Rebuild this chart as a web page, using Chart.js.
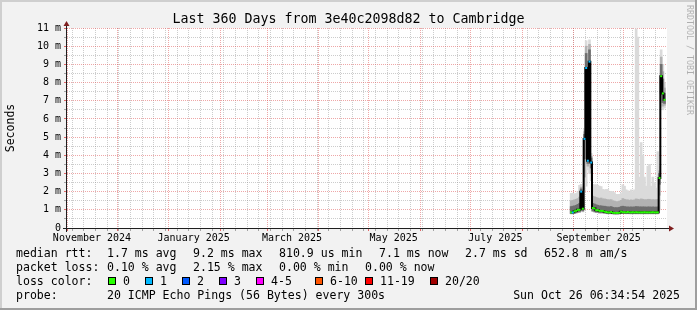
<!DOCTYPE html>
<html><head><meta charset="utf-8">
<script src="https://cdn.jsdelivr.net/npm/chart.js@4"></script>
<style>html,body{margin:0;padding:0;background:#f2f2f2;}canvas{display:block}</style>
</head><body>
<canvas id="c" width="697" height="310"></canvas>
<script>
// ---------------- data ----------------
const titleText = 'Last 360 Days from 3e40c2098d82 to Cambridge';
const axisStart = '2024-11-01';            // left edge of the time axis
const axisDays = 360;
const firstSampleDate = '2025-08-30';      // one sample per day from here
const monthStarts = ['2024-11-01','2024-12-01','2025-01-01','2025-02-01','2025-03-01','2025-04-01',
  '2025-05-01','2025-06-01','2025-07-01','2025-08-01','2025-09-01','2025-10-01'];
const labelMonths = ['2024-11-01','2025-01-01','2025-03-01','2025-05-01','2025-07-01','2025-09-01'];
const tickLabels = ['November 2024','January 2025','March 2025','May 2025','July 2025','September 2025'];
const firstWeekLine = '2024-11-04';
const yMaxMs = 11;

// median rtt (ms), one per day
const medianRtt = [
  0.86,0.86,0.92,0.95,1.00,1.00,2.00,1.06,4.90,8.80,
  3.70,9.15,3.60,1.10,1.08,0.98,0.98,0.94,0.94,0.94,
  0.90,0.88,0.86,0.86,0.88,0.84,0.83,0.83,0.83,0.84,
  0.90,0.87,0.87,0.86,0.88,0.86,0.86,0.87,0.86,0.87,
  0.86,0.86,0.86,0.86,0.87,0.86,0.86,0.86,0.86,0.87,
  0.86,0.86,0.86,2.75,8.35,7.40,7.05];
// lost pings (of 20)
const lostPings = [
  0,1,0,0,0,0,1,0,1,1,
  1,1,1,0,0,0,0,0,0,0,
  0,0,0,0,0,0,0,0,0,0,
  0,0,0,0,0,0,0,0,0,0,
  0,0,0,0,0,0,0,0,0,0,
  0,0,0,0,0,0,0];
// smoke: outer (min..max), middle and core bands
const smokeMin = [
  0.78,0.78,0.80,0.82,0.85,0.85,0.90,0.88,2.10,2.30,
  3.20,3.00,2.60,0.90,0.88,0.85,0.85,0.82,0.82,0.82,
  0.80,0.80,0.78,0.78,0.80,0.77,0.76,0.76,0.76,0.77,
  0.80,0.79,0.79,0.78,0.79,0.78,0.78,0.78,0.78,0.78,
  0.78,0.78,0.78,0.78,0.78,0.78,0.78,0.78,0.78,0.78,
  0.78,0.78,0.78,1.00,6.60,6.50,6.60];
const smokeMax = [
  1.90,1.92,1.88,1.90,2.00,2.35,2.40,2.30,5.45,10.30,
  4.40,10.35,4.10,2.40,2.38,2.38,2.35,2.30,2.28,2.12,
  2.10,2.12,2.12,2.00,2.02,2.00,1.95,1.85,1.85,1.85,
  1.90,2.38,2.30,2.10,2.05,2.00,2.10,2.00,2.10,10.95,
  10.50,2.80,4.70,4.00,2.80,2.30,3.40,3.50,2.30,2.80,
  2.50,2.20,4.20,3.40,9.80,9.00,8.00];
const midLo = [
  0.78,0.78,0.80,0.82,0.85,0.85,1.00,0.90,2.80,4.80,
  3.40,4.50,3.00,0.90,0.88,0.85,0.85,0.82,0.82,0.82,
  0.80,0.80,0.78,0.78,0.80,0.77,0.76,0.76,0.76,0.77,
  0.80,0.79,0.79,0.78,0.79,0.78,0.78,0.78,0.78,0.78,
  0.78,0.78,0.78,0.78,0.78,0.78,0.78,0.78,0.78,0.78,
  0.78,0.78,0.78,1.80,7.00,6.70,6.75];
const midHi = [
  1.50,1.52,1.55,1.58,1.62,1.70,2.25,1.75,5.30,10.00,
  4.15,10.10,3.95,1.75,1.72,1.68,1.65,1.62,1.65,1.60,
  1.60,1.58,1.55,1.55,1.56,1.50,1.48,1.45,1.45,1.48,
  1.52,1.62,1.58,1.55,1.55,1.52,1.55,1.52,1.55,1.60,
  1.58,1.56,1.60,1.58,1.56,1.55,1.58,1.58,1.55,1.56,
  1.55,1.55,1.58,3.15,9.40,8.60,7.70];
const coreLo = [
  0.80,0.80,0.82,0.85,0.88,0.90,1.40,0.95,3.80,7.00,
  3.55,6.60,3.30,0.95,0.92,0.88,0.88,0.85,0.85,0.85,
  0.83,0.82,0.80,0.80,0.82,0.79,0.78,0.78,0.78,0.79,
  0.82,0.81,0.81,0.80,0.81,0.80,0.80,0.80,0.80,0.80,
  0.80,0.80,0.80,0.80,0.80,0.80,0.80,0.80,0.80,0.80,
  0.80,0.80,0.80,2.40,7.40,6.90,6.85];
const coreHi = [
  1.18,1.20,1.22,1.25,1.30,1.35,2.15,1.35,5.15,9.60,
  3.95,9.80,3.85,1.35,1.32,1.28,1.25,1.22,1.22,1.20,
  1.20,1.18,1.16,1.16,1.18,1.14,1.12,1.12,1.12,1.14,
  1.18,1.20,1.18,1.16,1.16,1.15,1.16,1.15,1.16,1.18,
  1.17,1.16,1.16,1.16,1.16,1.15,1.16,1.16,1.15,1.16,
  1.15,1.15,1.16,3.00,9.00,8.20,7.40];

const rttStats = ['1.7 ms avg','9.2 ms max','810.9 us min','7.1 ms now','2.7 ms sd','652.8 m am/s'];
const lossStats = ['0.10 % avg','2.15 % max','0.00 % min','0.00 % now'];
const lossLevels = ['0','1','2','3','4-5','6-10','11-19','20/20'];
const lossUpper = [0,1,2,3,5,10,19,20];
const lossColors = ['#26ff00','#00b8ff','#0059ff','#7e00ff','#ff00ff','#ff5500','#ff0000','#a00000'];
const probeText = '20 ICMP Echo Pings (56 Bytes) every 300s';
const stampText = 'Sun Oct 26 06:34:54 2025';
const watermark = 'RRDTOOL / TOBI OETIKER';

// ---------------- helpers ----------------
const DAY = 86400000;
const dayOf = s => (Date.parse(s + 'T00:00:00Z') - Date.parse(axisStart + 'T00:00:00Z')) / DAY;
const x0 = dayOf(firstSampleDate);
const xs = medianRtt.map((_, i) => x0 + i + 0.5);
const band = (lo, hi) => lo.map((v, i) => ({x: xs[i], y: [v, hi[i]]}));
const pts = arr => arr.map((v, i) => ({x: xs[i], y: v}));
const lossColorOf = n => lossColors[lossUpper.findIndex(u => n <= u)];

const xTicks = [];
for (let d = dayOf(firstWeekLine); d < axisDays; d += 7) xTicks.push({value: d, kind: 'minor'});
monthStarts.forEach(m => xTicks.push({value: dayOf(m), kind: 'major'}));
labelMonths.forEach((m, i) => xTicks.push({value: dayOf(m) + 15, kind: 'label', text: tickLabels[i]}));
const kindRank = {label: 0, minor: 1, major: 2};
xTicks.sort((a, b) => a.value - b.value || kindRank[a.kind] - kindRank[b.kind]);

const MAJOR = 'rgba(222,79,79,0.5)';
const MINOR = 'rgba(143,143,143,0.45)';
const MAJOR_T = 'rgba(222,79,79,0.85)';
const MINOR_T = 'rgba(143,143,143,0.8)';
const FONT = '"DejaVu Sans Mono"';
Chart.defaults.font.family = FONT;

// ---------------- decorations ----------------
const rrdLook = {
  id: 'rrdLook',
  beforeDraw(chart) {
    const {ctx, width, height, chartArea: a} = chart;
    ctx.save();
    ctx.fillStyle = '#f2f2f2'; ctx.fillRect(0, 0, width, height);
    ctx.fillStyle = '#cfcfcf'; ctx.fillRect(0, 0, width, 2); ctx.fillRect(0, 0, 2, height);
    ctx.fillStyle = '#9e9e9e'; ctx.fillRect(0, height - 2, width, 2); ctx.fillRect(width - 2, 0, 2, height);
    ctx.fillStyle = '#ffffff'; ctx.fillRect(a.left, a.top, a.right - a.left, a.bottom - a.top);
    ctx.restore();
  },
  afterDatasetsDraw(chart) {
    const {ctx, chartArea: a} = chart;
    const ax = a.left - 0.5, ay = a.bottom + 0.5;
    ctx.save();
    ctx.strokeStyle = '#1f1f1f'; ctx.lineWidth = 1;
    ctx.beginPath();
    ctx.moveTo(a.left - 4, ay); ctx.lineTo(a.right + 4, ay);
    ctx.moveTo(ax, a.bottom + 4); ctx.lineTo(ax, a.top - 4);
    ctx.stroke();
    ctx.fillStyle = '#7f1f1f';
    ctx.beginPath(); ctx.moveTo(a.right + 2, ay - 3); ctx.lineTo(a.right + 2, ay + 3); ctx.lineTo(a.right + 7, ay); ctx.closePath(); ctx.fill();
    ctx.beginPath(); ctx.moveTo(ax - 3, a.top - 2); ctx.lineTo(ax + 3, a.top - 2); ctx.lineTo(ax, a.top - 7); ctx.closePath(); ctx.fill();
    ctx.restore();
  },
  afterDraw(chart) {
    const {ctx} = chart;
    ctx.save();
    ctx.fillStyle = '#000';
    ctx.textBaseline = 'alphabetic';
    ctx.textAlign = 'center';
    ctx.font = '13.3px ' + FONT;
    ctx.fillText(titleText, 348.5, 23);
    ctx.textAlign = 'left';
    ctx.font = '11.56px ' + FONT;
    const rows = [257, 271, 285, 299];
    ctx.fillText('median rtt:', 16, rows[0]);
    [107, 193, 279, 379, 465, 544].forEach((x, i) => ctx.fillText(rttStats[i], x, rows[0]));
    ctx.fillText('packet loss:', 16, rows[1]);
    [107, 193, 279, 365].forEach((x, i) => ctx.fillText(lossStats[i], x, rows[1]));
    ctx.fillText('loss color:', 16, rows[2]);
    [108, 145, 182, 219, 256, 315, 365, 430].forEach((x, i) => {
      ctx.fillStyle = lossColors[i]; ctx.fillRect(x, 277, 8, 8);
      ctx.strokeStyle = '#000'; ctx.lineWidth = 1; ctx.strokeRect(x + 0.5, 277.5, 7, 7);
      ctx.fillStyle = '#000'; ctx.fillText(lossLevels[i], x + 15, rows[2]);
    });
    ctx.fillText('probe:', 16, rows[3]);
    ctx.fillText(probeText, 107, rows[3]);
    ctx.textAlign = 'right';
    ctx.fillText(stampText, 680, rows[3]);
    // watermark
    ctx.translate(689, 5);
    ctx.rotate(Math.PI / 2);
    ctx.textAlign = 'left'; ctx.textBaseline = 'middle';
    ctx.fillStyle = 'rgba(0,0,0,0.28)';
    ctx.font = '8.3px ' + FONT;
    ctx.fillText(watermark, 0, 0);
    ctx.restore();
  }
};

// ---------------- chart ----------------
new Chart(document.getElementById('c'), {
  type: 'bar',
  data: {
    datasets: [
      {type: 'line', label: 'loss colour', data: pts(medianRtt), showLine: false,
       pointStyle: 'line', pointRadius: 1, pointBorderWidth: 2,
       pointBorderColor: lostPings.map(lossColorOf), order: 0},
      {type: 'line', label: 'median', data: pts(medianRtt), stepped: 'middle',
       borderColor: '#000', borderWidth: 2, pointRadius: 0, order: 1},
      {label: 'core', data: band(coreLo, coreHi), backgroundColor: '#6e6e6e',
       grouped: false, barThickness: 2, borderWidth: 0, order: 2},
      {label: 'mid', data: band(midLo, midHi), backgroundColor: '#b2b2b2',
       grouped: false, barThickness: 2, borderWidth: 0, order: 3},
      {label: 'outer', data: band(smokeMin, smokeMax), backgroundColor: '#dadada',
       grouped: false, barThickness: 2, borderWidth: 0, order: 4}
    ]
  },
  options: {
    responsive: false,
    animation: false,
    events: [],
    layout: {padding: {left: 0, right: 30, top: 28, bottom: 62}},
    plugins: {legend: {display: false}, tooltip: {enabled: false}, title: {display: false}},
    scales: {
      x: {
        type: 'linear', min: 0, max: axisDays, offset: false,
        afterFit(a) { a.height = 20; },
        afterBuildTicks(a) { a.ticks = xTicks.map(t => ({...t})); },
        ticks: {autoSkip: false, maxRotation: 0, minRotation: 0, padding: 1, color: '#000',
                font: {size: 10},
                callback: (v, i, ts) => ts[i] && ts[i].kind === 'label' ? ts[i].text : ''},
        grid: {offset: false, tickLength: 3,
               color: c => !c.tick ? 'rgba(0,0,0,0)' : c.tick.kind === 'major' ? MAJOR : c.tick.kind === 'minor' ? MINOR : 'rgba(0,0,0,0)',
               tickColor: c => !c.tick ? 'rgba(0,0,0,0)' : c.tick.kind === 'major' ? MAJOR_T : c.tick.kind === 'minor' ? MINOR_T : 'rgba(0,0,0,0)'},
        border: {display: false, dash: [1, 1]}
      },
      y: {
        type: 'linear', min: 0, max: yMaxMs,
        afterFit(a) { a.width = 67; },
        ticks: {stepSize: 0.5, autoSkip: false, padding: 3, color: '#000', font: {size: 10},
                callback: v => Number.isInteger(v) ? (v === 0 ? '0' : v + ' m') : ''},
        grid: {tickLength: 3,
               color: c => c.tick && Number.isInteger(c.tick.value) ? MAJOR : MINOR,
               tickColor: c => c.tick && Number.isInteger(c.tick.value) ? MAJOR_T : MINOR_T},
        border: {display: false, dash: [1, 1]},
        title: {display: true, text: 'Seconds', color: '#000', font: {size: 11.5}, padding: {top: 4, bottom: 0}}
      }
    }
  },
  plugins: [rrdLook]
});
</script>
</body></html>
